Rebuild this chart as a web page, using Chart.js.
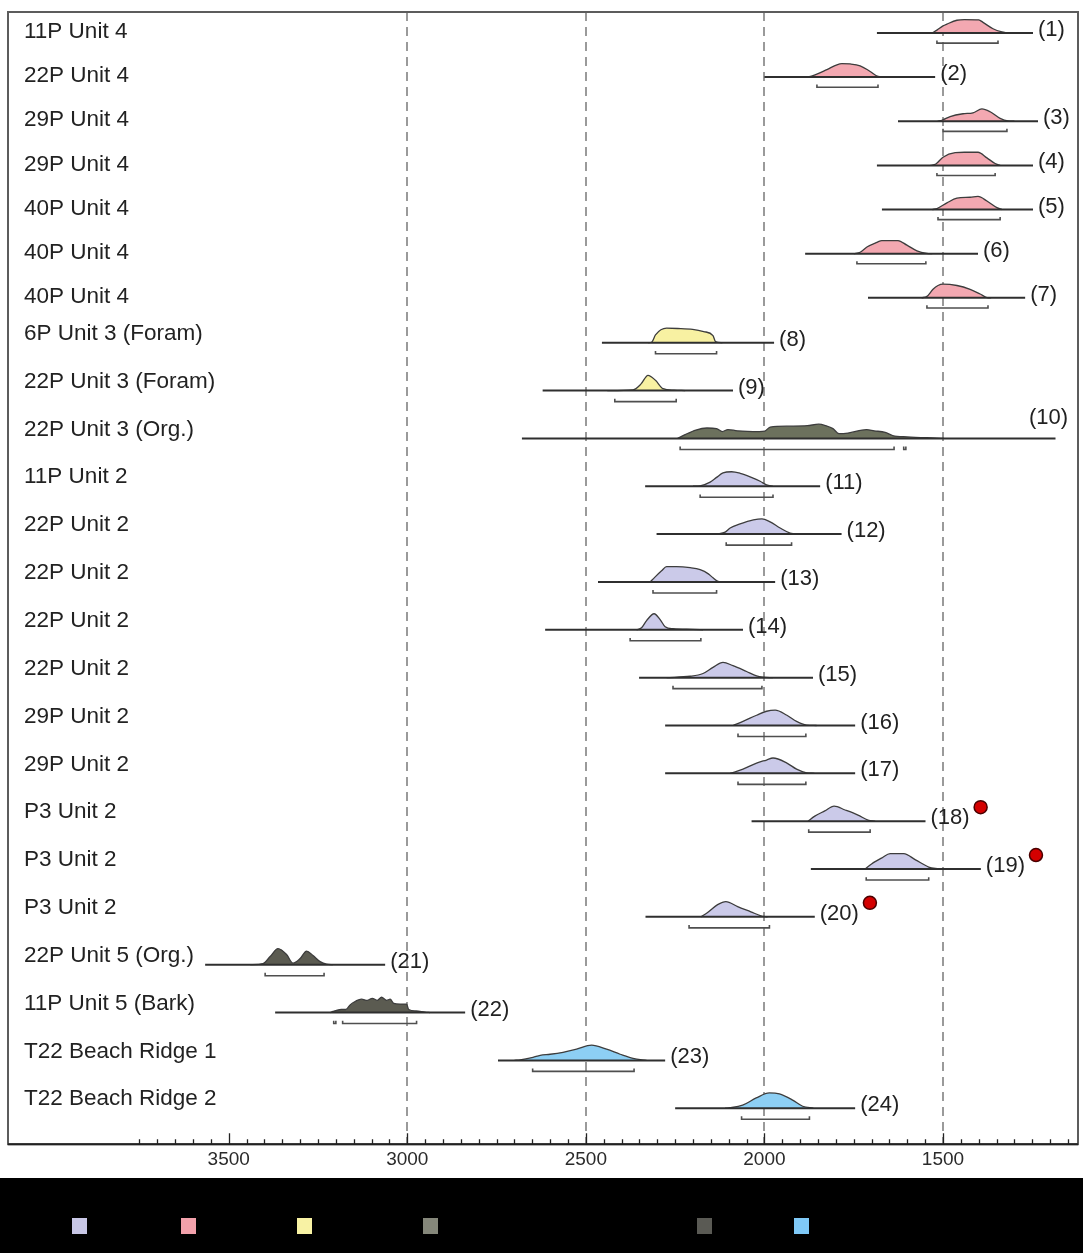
<!DOCTYPE html>
<html>
<head>
<meta charset="utf-8">
<script src="https://cdn.jsdelivr.net/npm/chart.js@4.4.0/dist/chart.umd.min.js"></script>
<style>
  body { margin: 0; background: #fff; }
  #wrap { width: 1083px; height: 1178px; }
  #legend { position: relative; width: 1083px; height: 75px; background: #000; }
  #legend span { position: absolute; top: 40px; width: 15px; height: 16px; }
</style>
</head>
<body>
<div id="wrap"><canvas id="calib" width="1083" height="1178"></canvas></div>
<div id="legend"></div>
<script>
// row names, top to bottom
const rowLabels = [
  '11P Unit 4', '22P Unit 4', '29P Unit 4', '29P Unit 4', '40P Unit 4', '40P Unit 4', '40P Unit 4',
  '6P Unit 3 (Foram)', '22P Unit 3 (Foram)', '22P Unit 3 (Org.)',
  '11P Unit 2', '22P Unit 2', '22P Unit 2', '22P Unit 2', '22P Unit 2', '29P Unit 2', '29P Unit 2',
  'P3 Unit 2', 'P3 Unit 2', 'P3 Unit 2',
  '22P Unit 5 (Org.)', '11P Unit 5 (Bark)', 'T22 Beach Ridge 1', 'T22 Beach Ridge 2'
];
// group of each row -> index into groupColors
const rowGroup = [1,1,1,1,1,1,1, 2,2, 3, 0,0,0,0,0,0,0,0,0,0, 4,4, 5,5];
const groupColors = ['#cbcae9', '#f3a8b1', '#f8f1a2', '#6c715d', '#5b5b51', '#8dcff4'];
const legendColors = ['#c8c7e6', '#f2a1ab', '#f8f2a4', '#85877a', '#5a5a54', '#7fc9f7'];

// calendar years (BP) of the horizontal line of each row
const lineSpan = [
  [1685,1248],[2000,1522],[1626,1234],[1685,1248],[1671,1248],[1886,1402],[1710,1270],
  [2455,1973],[2621,2088],[2679,1185],
  [2334,1844],[2302,1784],[2466,1970],[2614,2060],[2351,1864],[2278,1746],[2278,1746],
  [2036,1549],[1870,1394],[2333,1859],
  [3566,3062],[3370,2838],[2746,2278],[2250,1746]
];
// 95% ranges under each distribution
const hpd = [
  [[1517,1346]],[[1853,1682]],[[1500,1321]],[[1517,1354]],[[1514,1340]],[[1741,1548]],[[1545,1374]],
  [[2305,2134]],[[2419,2247]],[[2236,1637],[1610,1604]],
  [[2180,1976]],[[2107,1924]],[[2312,2134]],[[2376,2178]],[[2256,2007]],[[2074,1884]],[[2074,1884]],
  [[1876,1704]],[[1715,1540]],[[2211,1986]],
  [[3398,3233]],[[3206,3200],[3181,2974]],[[2649,2365]],[[2064,1874]]
];
// relative probability: [year, p]
const density = [
  [[1530,0],[1517,0.2],[1500,0.5],[1489,0.63],[1461,0.9],[1440,0.95],[1400,0.93],[1388,0.75],[1360,0.3],[1335,0.07],[1320,0]],
  [[1880,0],[1864,0.1],[1825,0.53],[1797,0.87],[1783,0.95],[1760,0.93],[1732,0.8],[1704,0.4],[1682,0.05],[1665,0]],
  [[1515,0],[1503,0.07],[1480,0.33],[1444,0.53],[1416,0.6],[1391,0.87],[1368,0.67],[1340,0.2],[1318,0.02],[1300,0]],
  [[1535,0],[1520,0.1],[1500,0.58],[1466,0.9],[1440,0.93],[1402,0.93],[1377,0.53],[1354,0.13],[1340,0]],
  [[1530,0],[1517,0.07],[1489,0.47],[1461,0.8],[1424,0.87],[1402,0.93],[1377,0.6],[1349,0.13],[1335,0]],
  [[1750,0],[1732,0.1],[1713,0.47],[1685,0.8],[1671,0.93],[1626,0.93],[1601,0.6],[1573,0.2],[1545,0.02],[1530,0]],
  [[1560,0],[1545,0.1],[1528,0.6],[1514,0.87],[1500,0.97],[1461,0.87],[1424,0.6],[1396,0.27],[1377,0.02],[1365,0]],
  [[2325,0],[2315,0.05],[2305,0.51],[2274,0.95],[2243,0.93],[2201,0.87],[2170,0.73],[2144,0.47],[2137,0.07],[2118,0]],
  [[2440,0],[2368,0.05],[2346,0.42],[2326,1.0],[2305,0.67],[2284,0.13],[2253,0.03],[2222,0]],
  [[2243,0],[2222,0.25],[2192,0.55],[2161,0.68],[2134,0.64],[2118,0.45],[2102,0.58],[2076,0.5],[2015,0.45],[1999,0.48],
   [1984,0.74],[1931,0.8],[1880,0.83],[1848,0.93],[1828,0.83],[1808,0.64],[1791,0.31],[1766,0.35],[1714,0.58],[1693,0.5],
   [1662,0.39],[1641,0.19],[1600,0.1],[1517,0.02],[1497,0]],
  [[2200,0],[2180,0.03],[2152,0.27],[2134,0.58],[2116,0.87],[2092,0.95],[2068,0.85],[2040,0.62],[2012,0.33],[1994,0.09],[1976,0]],
  [[2134,0],[2110,0.13],[2096,0.4],[2068,0.67],[2031,0.93],[2007,1.0],[1984,0.8],[1956,0.4],[1928,0.07],[1900,0]],
  [[2320,0],[2306,0.33],[2288,0.73],[2274,1.0],[2246,1.0],[2208,0.93],[2180,0.8],[2157,0.53],[2144,0.27],[2130,0.03],[2116,0]],
  [[2358,0],[2344,0.13],[2330,0.6],[2309,1.05],[2292,0.67],[2278,0.2],[2256,0.07],[2200,0.03],[2172,0]],
  [[2274,0],[2208,0.09],[2172,0.27],[2144,0.67],[2116,1.0],[2088,0.78],[2050,0.4],[2022,0.11],[2004,0.03],[1976,0]],
  [[2088,0],[2060,0.27],[2022,0.67],[1994,0.93],[1970,1.0],[1937,0.67],[1910,0.27],[1882,0.03],[1854,0]],
  [[2096,0],[2060,0.27],[2022,0.67],[1994,0.87],[1976,1.0],[1937,0.67],[1910,0.27],[1882,0.03],[1860,0]],
  [[1878,0],[1859,0.33],[1831,0.67],[1805,0.98],[1774,0.73],[1738,0.4],[1710,0.07],[1690,0]],
  [[1718,0],[1700,0.33],[1671,0.73],[1648,1.0],[1610,1.0],[1577,0.6],[1540,0.13],[1512,0]],
  [[2178,0],[2160,0.27],[2131,0.8],[2108,1.0],[2075,0.67],[2038,0.33],[2010,0.07],[1991,0]],
  [[3440,0],[3404,0.07],[3384,0.53],[3362,1.05],[3338,0.67],[3320,0.1],[3300,0.4],[3282,0.89],[3264,0.6],[3244,0.2],[3226,0.03],[3208,0]],
  [[3215,0],[3208,0.07],[3185,0.2],[3172,0.2],[3160,0.5],[3150,0.67],[3128,0.87],[3112,0.8],[3098,0.93],[3084,0.8],
   [3072,1.0],[3058,0.8],[3048,0.87],[3038,0.6],[3020,0.55],[3002,0.55],[2996,0.2],[2975,0.1],[2950,0.03],[2936,0]],
  [[2700,0],[2684,0.03],[2648,0.2],[2628,0.33],[2600,0.4],[2564,0.53],[2526,0.73],[2484,1.0],[2442,0.73],[2404,0.4],[2368,0.13],[2330,0]],
  [[2110,0],[2096,0.03],[2061,0.2],[2023,0.67],[1986,1.0],[1958,0.93],[1921,0.53],[1893,0.13],[1863,0]]
];
// rows marked with a red dot (numbers as printed)
const flagged = [18, 19, 20];

const tickLabels = [3500, 3000, 2500, 2000, 1500];
const refLines = [3000, 2500, 2000, 1500];

const FONT = '"Liberation Sans", Arial, sans-serif';
const peakRows = 0.32;    // height of p=1 in row units
const bracketOff = 0.23;  // range bar below the line
const bracketTick = 0.06;
const topPanelRows = 7;   // the Unit 4 block is set a little tighter
const axisOf = i => i < topPanelRows ? 'yA' : 'yB';

const datasets = [];
rowLabels.forEach((lab, i) => {
  const yAxisID = axisOf(i);
  datasets.push({
    yAxisID,
    data: density[i].map(d => ({x: d[0], y: i - d[1] * peakRows})),
    fill: {value: i},
    backgroundColor: groupColors[rowGroup[i]],
    borderColor: '#3d3d3d',
    borderWidth: 1.3,
    cubicInterpolationMode: 'monotone',
    pointRadius: 0,
    order: 3
  });
  hpd[i].forEach(r => {
    datasets.push({
      yAxisID,
      data: [
        {x: r[0], y: i + bracketOff - bracketTick}, {x: r[0], y: i + bracketOff},
        {x: r[1], y: i + bracketOff}, {x: r[1], y: i + bracketOff - bracketTick}
      ],
      borderColor: '#4f4f4f',
      borderWidth: 1.6,
      pointRadius: 0,
      fill: false,
      order: 2
    });
  });
  datasets.push({
    yAxisID,
    data: [{x: lineSpan[i][0], y: i}, {x: lineSpan[i][1], y: i}],
    borderColor: '#2f2f2f',
    borderWidth: 2,
    pointRadius: 0,
    fill: false,
    order: 1
  });
});

// frame + small ticks on the time axis
const framePlugin = {
  id: 'frame',
  afterDraw(chart) {
    const {ctx, chartArea: a, scales: {x}} = chart;
    ctx.save();
    ctx.strokeStyle = '#5c5c5c';
    ctx.lineWidth = 2;
    ctx.strokeRect(a.left, a.top, a.right - a.left, a.bottom - a.top);
    ctx.strokeStyle = '#222';
    ctx.beginPath();
    ctx.moveTo(a.left, a.bottom);
    ctx.lineTo(a.right, a.bottom);
    ctx.stroke();
    ctx.lineWidth = 1.3;
    ctx.beginPath();
    for (let v = 3750; v >= 1150; v -= 50) {
      const px = Math.round(x.getPixelForValue(v)) + 0.5;
      const len = v % 500 === 0 ? 11 : 5;
      ctx.moveTo(px, a.bottom);
      ctx.lineTo(px, a.bottom - len);
    }
    ctx.stroke();
    ctx.restore();
  }
};

// (n) labels at the end of each line, red dots for flagged rows
const numberPlugin = {
  id: 'numbers',
  afterDatasetsDraw(chart) {
    const {ctx, chartArea: a, scales} = chart;
    ctx.save();
    ctx.font = '22px ' + FONT;
    ctx.fillStyle = '#222';
    ctx.textBaseline = 'middle';
    ctx.textAlign = 'left';
    rowLabels.forEach((lab, i) => {
      const txt = '(' + (i + 1) + ')';
      const w = ctx.measureText(txt).width;
      let px = scales.x.getPixelForValue(lineSpan[i][1]) + 5;
      let py = scales[axisOf(i)].getPixelForValue(i) - 3;
      if (px + w > a.right - 4) {
        px = a.right - 10 - w;
        py -= 17;
      }
      ctx.fillText(txt, px, py);
      if (flagged.includes(i + 1)) {
        ctx.beginPath();
        ctx.arc(px + w + 11, py - 11, 6.5, 0, Math.PI * 2);
        ctx.fillStyle = '#d40000';
        ctx.fill();
        ctx.lineWidth = 1.5;
        ctx.strokeStyle = '#4a0000';
        ctx.stroke();
        ctx.fillStyle = '#222';
      }
    });
    ctx.restore();
  }
};

const noPad = s => { s.width = 0; s.paddingTop = 0; s.paddingBottom = 0; };

function rowAxis(first, last, min, max, weight, stackWeight, labelOffset) {
  return {
    type: 'linear',
    position: 'left',
    stack: 'rows',
    stackWeight,
    weight,
    reverse: true,
    min,
    max,
    grid: {display: false, drawTicks: false},
    border: {display: false},
    afterBuildTicks: s => {
      s.ticks = rowLabels.map((l, i) => ({value: i})).filter(t => t.value >= first && t.value <= last);
    },
    afterFit: noPad,
    ticks: {
      autoSkip: false,
      mirror: true,
      padding: 16,
      labelOffset,
      color: '#222',
      font: {family: FONT, size: 22.5},
      callback: v => rowLabels[v] !== undefined ? rowLabels[v] : ''
    }
  };
}

new Chart(document.getElementById('calib'), {
  type: 'line',
  data: {datasets: datasets},
  options: {
    responsive: false,
    animation: false,
    devicePixelRatio: 1,
    layout: {padding: {left: 8, right: 5, top: 12, bottom: 3}},
    plugins: {legend: {display: false}, tooltip: {enabled: false}},
    scales: {
      x: {
        type: 'linear',
        reverse: true,
        min: 1122,
        max: 4118,
        afterBuildTicks: s => { s.ticks = tickLabels.map(v => ({value: v})); },
        afterFit: s => { s.paddingLeft = 0; s.paddingRight = 0; },
        grid: {
          drawTicks: false,
          lineWidth: 2,
          color: c => (c.tick && refLines.includes(c.tick.value)) ? '#9a9a9a' : 'rgba(0,0,0,0)'
        },
        border: {display: false, dash: [9, 6]},
        ticks: {
          autoSkip: false,
          maxRotation: 0,
          padding: 4,
          color: '#2a2a2a',
          font: {family: FONT, size: 19},
          callback: v => String(v)
        }
      },
      yA: rowAxis(0, topPanelRows - 1, -0.475, 6.498, 1, 308, -1),
      yB: rowAxis(topPanelRows, rowLabels.length - 1, 6.52, 23.752, 0, 825, -9)
    }
  },
  plugins: [framePlugin, numberPlugin]
});

// colour key strip under the chart
const legendLeft = [72, 181, 297, 423, 697, 794];
const legend = document.getElementById('legend');
legendColors.forEach((c, k) => {
  const s = document.createElement('span');
  s.style.left = legendLeft[k] + 'px';
  s.style.background = c;
  legend.appendChild(s);
});
</script>
</body>
</html>
